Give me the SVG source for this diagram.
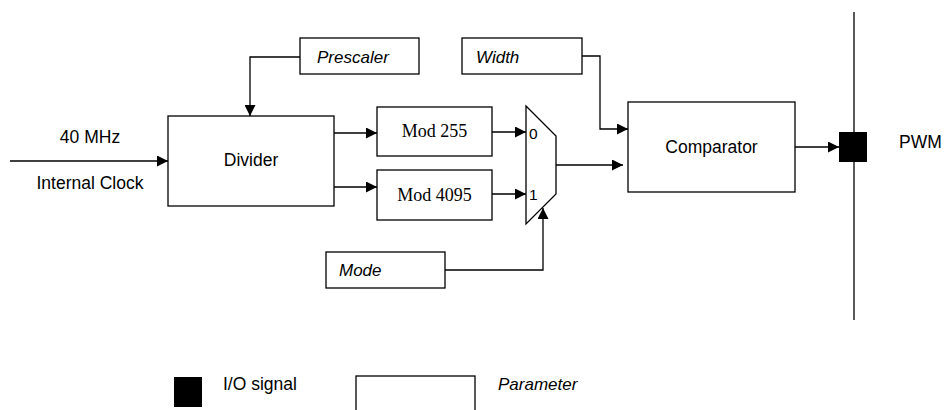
<svg xmlns="http://www.w3.org/2000/svg" width="945" height="410" viewBox="0 0 945 410">
  <style>
    .box { fill: #fff; stroke: #000; stroke-width: 1.3; }
    .line { fill: none; stroke: #000; stroke-width: 1.3; }
    .arr { fill: none; stroke: #000; stroke-width: 1.3; marker-end: url(#ah); }
    .t { font-family: "Liberation Sans", Arial, sans-serif; font-size: 17.5px; fill: #000; }
    .ti { font-family: "Liberation Sans", Arial, sans-serif; font-size: 17px; font-style: italic; fill: #000; }
    .ts { font-family: "Liberation Serif", "Times New Roman", serif; font-size: 18px; fill: #000; }
    .tn { font-family: "Liberation Sans", Arial, sans-serif; font-size: 15.5px; fill: #000; }
    .mid { text-anchor: middle; }
  </style>
  <defs>
    <marker id="ah" viewBox="0 0 10 10" refX="10" refY="5" markerUnits="userSpaceOnUse" markerWidth="11" markerHeight="11" orient="auto">
      <path d="M0,0 L10,5 L0,10 z" fill="#000"/>
    </marker>
  </defs>
  <rect width="945" height="410" fill="#fff"/>

  <g id="connectors">
    <path class="arr" d="M10,161 H168"/>
    <path class="arr" d="M300,57 H250 V116"/>
    <path class="arr" d="M334,133 H377"/>
    <path class="arr" d="M334,187 H377"/>
    <path class="arr" d="M492,132 H526"/>
    <path class="arr" d="M492,194 H526"/>
    <path class="arr" d="M582,56 H600 V129 H628"/>
    <path class="arr" d="M556,165 H623"/>
    <path class="arr" d="M445,270 H543 V208"/>
    <path class="arr" d="M795,147 H839"/>
  </g>

  <g id="input-label">
    <text class="t mid" x="90" y="143">40 MHz</text>
    <text class="t mid" x="90" y="189">Internal Clock</text>
  </g>

  <g id="divider">
    <rect class="box" x="168" y="116" width="166" height="90"/>
    <text class="t mid" x="251" y="166">Divider</text>
  </g>

  <g id="prescaler">
    <rect class="box" x="300" y="38" width="119" height="36"/>
    <text class="ti" x="317" y="63">Prescaler</text>
  </g>

  <g id="width">
    <rect class="box" x="462" y="38" width="120" height="36"/>
    <text class="ti" x="476" y="63">Width</text>
  </g>

  <g id="mod255">
    <rect class="box" x="377" y="107" width="115" height="49"/>
    <text class="ts mid" x="434.5" y="137">Mod 255</text>
  </g>

  <g id="mod4095">
    <rect class="box" x="377" y="170" width="115" height="50"/>
    <text class="ts mid" x="434.5" y="201">Mod 4095</text>
  </g>

  <g id="mux">
    <polygon class="box" points="526,106 556,136 556,194 526,224"/>
    <text class="tn" x="529" y="139">0</text>
    <text class="tn" x="529" y="200">1</text>
  </g>

  <g id="mode">
    <rect class="box" x="326" y="252" width="119" height="36"/>
    <text class="ti" x="339" y="276">Mode</text>
  </g>

  <g id="comparator">
    <rect class="box" x="628" y="102" width="167" height="90"/>
    <text class="t mid" x="711.5" y="153">Comparator</text>
  </g>

  <g id="pwm">
    <line class="line" x1="854" y1="12" x2="854" y2="320"/>
    <rect x="839" y="132" width="28" height="30" fill="#000"/>
    <text class="t" x="899" y="148">PWM</text>
  </g>

  <g id="legend">
    <rect x="174" y="377" width="28" height="30" fill="#000"/>
    <text class="t" x="223" y="390">I/O signal</text>
    <rect class="box" x="356" y="376" width="119" height="40"/>
    <text class="ti" x="498" y="390">Parameter</text>
  </g>
</svg>
